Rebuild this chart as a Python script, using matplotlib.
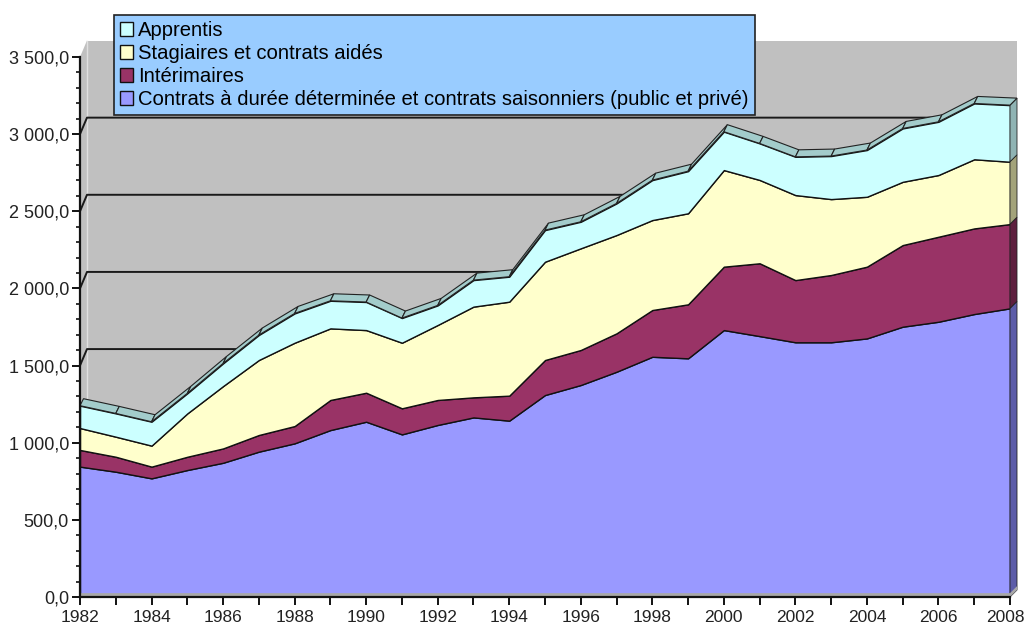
import numpy as np
import matplotlib
matplotlib.use("Agg")
import matplotlib.pyplot as plt
from matplotlib.patches import Polygon, Patch
from matplotlib.ticker import FuncFormatter, MultipleLocator

plt.rcParams['font.family'] = ['Liberation Sans', 'DejaVu Sans']

# Données (milliers)
annees = np.arange(1982, 2009)
cdd = np.array([845, 812, 769, 823, 870, 942, 996, 1082, 1136, 1054, 1115, 1164, 1143,
                1309, 1374, 1460, 1557, 1547, 1730, 1691, 1651, 1651, 1676, 1752, 1784, 1834, 1871])
interim = np.array([108, 97, 76, 86, 93, 108, 112, 195, 188, 169, 162, 130, 162,
                    227, 227, 249, 303, 350, 411, 472, 403, 436, 465, 529, 551, 555, 546])
stagiaires = np.array([142, 130, 136, 281, 404, 486, 540, 464, 406, 425, 486, 588, 609,
                       637, 659, 637, 583, 590, 626, 540, 551, 492, 453, 410, 400, 448, 404])
apprentis = np.array([145, 151, 155, 130, 147, 162, 190, 179, 182, 160, 127, 172, 162,
                      205, 172, 205, 259, 273, 249, 237, 248, 279, 303, 346, 345, 362, 367])

noms = ["Contrats à durée déterminée et contrats saisonniers (public et privé)",
        "Intérimaires", "Stagiaires et contrats aidés", "Apprentis"]
couleurs = ["#9999FF", "#993366", "#FFFFCC", "#CCFFFF"]
cotes = ["#5C5CA8", "#5E1F3E", "#A3A37A", "#8FB3B3"]

W, H = 1027, 630
fig = plt.figure(figsize=(W / 100, H / 100), dpi=100)
ax = fig.add_axes([80 / W, 33 / H, 930 / W, 540 / H])
x0, x1, y0, y1 = 1982, 2008, 0, 3500
ax.set_xlim(x0, x1)
ax.set_ylim(y0, y1)
ax.patch.set_visible(False)

px_x = (x1 - x0) / 930
px_y = (y1 - y0) / 540
# profondeur 3D du fond et des séries
dxw, dyw = 7 * px_x, 16.5 * px_y
dx, dy = 3.5 * px_x, 7 * px_y

# parois grises
fond = Polygon([(x0 + dxw, dyw), (x1 + dxw, dyw), (x1 + dxw, y1 + dyw), (x0 + dxw, y1 + dyw)],
               closed=True, facecolor="#C0C0C0", edgecolor="none", clip_on=False, zorder=0)
cote = Polygon([(x0, 0), (x0 + dxw, dyw), (x0 + dxw, y1 + dyw), (x0, y1)],
               closed=True, facecolor="#C0C0C0", edgecolor="none", clip_on=False, zorder=0)
ax.add_patch(fond)
ax.add_patch(cote)
ax.plot([x0 + dxw, x0 + dxw], [dyw, y1 + dyw], color="#E0E0E0", lw=1, clip_on=False, zorder=0.5)

for v in range(500, 3500, 500):
    ax.plot([x0, x0 + dxw, x1 + dxw - px_x], [v, v + dyw, v + dyw], color="#1a1a1a", lw=1.4,
            solid_capstyle="butt", clip_on=False, zorder=1)

# aires empilées
series = [cdd, interim, stagiaires, apprentis]
ax.stackplot(annees, *series, colors=couleurs, edgecolor="#111111", linewidth=1.0, zorder=2)

cum = np.cumsum(np.vstack(series), axis=0)
haut = cum[-1]

# faces latérales à droite
bas = 0
for k in range(4):
    t = cum[k][-1]
    q = Polygon([(x1, bas), (x1, t), (x1 + dxw, t + dy), (x1 + dxw, bas + dy)], closed=True,
                facecolor=cotes[k], edgecolor="#222222", lw=0.6, clip_on=False, zorder=3)
    ax.add_patch(q)
    bas = t

# biseau supérieur
for i in range(len(annees) - 1):
    xa, xb = annees[i], annees[i + 1]
    ya, yb = haut[i], haut[i + 1]
    dxb = dxw if i == len(annees) - 2 else dx
    q = Polygon([(xa, ya), (xb, yb), (xb + dxb, yb + dy), (xa + dx, ya + dy)], closed=True,
                facecolor="#A3CCCB", edgecolor="#222222", lw=0.8, clip_on=False, zorder=3)
    ax.add_patch(q)

# sol
sol = Polygon([(x0, 0), (x1, 0), (x1 + dxw, dy), (x1 + dxw, dy + 25), (x1, 25), (x0, 25)],
              closed=True, facecolor="#A8A8A8", edgecolor="none", clip_on=False, zorder=3)
ax.add_patch(sol)

# axes
for s in ["top", "right"]:
    ax.spines[s].set_visible(False)
for s in ["left", "bottom"]:
    ax.spines[s].set_linewidth(1.6)
    ax.spines[s].set_color("#111111")
    ax.spines[s].set_zorder(5)

ax.yaxis.set_major_locator(MultipleLocator(500))
ax.yaxis.set_minor_locator(MultipleLocator(100))
ax.xaxis.set_major_locator(MultipleLocator(2))
ax.xaxis.set_minor_locator(MultipleLocator(1))
ax.yaxis.set_major_formatter(FuncFormatter(lambda v, p: f"{v:,.1f}".replace(",", " ").replace(".", ",")))
# la dernière année est placée à part pour ne pas déborder
ax.xaxis.set_major_formatter(FuncFormatter(lambda v, p: "" if int(round(v)) == x1 else f"{int(round(v))}"))
ax.tick_params(axis="both", which="major", length=6, width=1.4, color="#111111",
               labelcolor="#222222")
ax.tick_params(axis="y", labelsize=13, pad=2)
ax.tick_params(axis="x", labelsize=12.5, pad=3)
ax.tick_params(axis="y", which="minor", length=3, width=1.2, color="#111111")
ax.tick_params(axis="x", which="minor", length=6, width=1.4, color="#111111")
ax.annotate(str(annees[-1]), xy=(annees[-1], 0), xycoords="data", xytext=(-3, -9),
            textcoords="offset points", ha="center", va="top", fontsize=12.5,
            color="#222222", annotation_clip=False)

# légende
poignees = [Patch(facecolor=couleurs[k], edgecolor="#111111", lw=1) for k in [3, 2, 1, 0]]
etiquettes = [noms[k] for k in [3, 2, 1, 0]]
leg = fig.legend(poignees, etiquettes, loc="upper left", bbox_to_anchor=(114 / W, 1 - 15 / H),
                 borderaxespad=0, frameon=True, fancybox=False, fontsize=14.6,
                 handlelength=0.65, handleheight=0.65, handletextpad=0.25, labelspacing=0.2,
                 borderpad=0.3)
leg.get_frame().set_facecolor("#99CCFF")
leg.get_frame().set_edgecolor("#222222")
leg.get_frame().set_linewidth(1.2)
leg.get_frame().set_alpha(1)
leg.set_zorder(10)

fig.savefig("out.png", dpi=100)
